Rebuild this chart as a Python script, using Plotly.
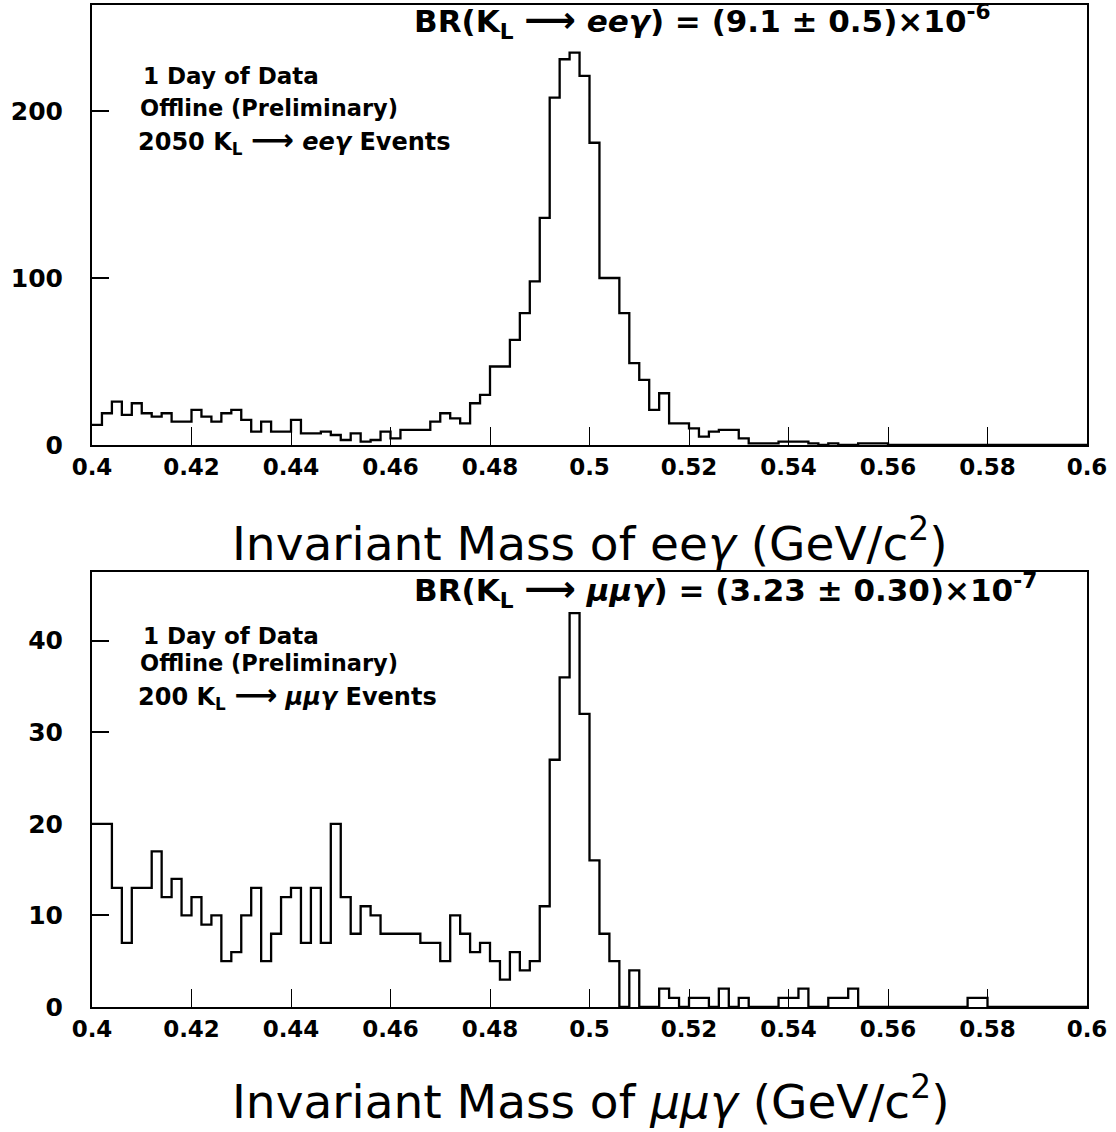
import numpy as np
import plotly.graph_objects as go

# Histogram binning: 100 bins of 2 MeV between 0.4 and 0.6 GeV/c^2
mass_lo, mass_hi, n_bins = 0.4, 0.6, 100
mass_edges = np.linspace(mass_lo, mass_hi, n_bins + 1)

# K_L -> e e gamma candidates per bin
ee_counts = [
    12, 19, 26, 18, 25, 19, 17, 19, 14, 14, 21, 17, 14, 19, 21, 15, 8, 14, 8, 8,
    15, 7, 7, 8, 6, 3, 7, 2, 3, 8, 4, 9, 9, 9, 14, 19, 16, 13, 25, 30,
    47, 47, 63, 79, 98, 136, 208, 231, 235, 221, 181, 100, 100, 79, 49, 39, 21, 31, 13, 13,
    10, 5, 8, 9, 9, 4, 1, 1, 1, 2, 2, 2, 1, 0, 1, 0, 0, 1, 1, 1,
    0, 0, 0, 0, 0, 0, 0, 0, 0, 0, 0, 0, 0, 0, 0, 0, 0, 0, 0, 0,
]

# K_L -> mu mu gamma candidates per bin
mm_counts = [
    20, 20, 13, 7, 13, 13, 17, 12, 14, 10, 12, 9, 10, 5, 6, 10, 13, 5, 8, 12,
    13, 7, 13, 7, 20, 12, 8, 11, 10, 8, 8, 8, 8, 7, 7, 5, 10, 8, 6, 7,
    5, 3, 6, 4, 5, 11, 27, 36, 43, 32, 16, 8, 5, 0, 4, 0, 0, 2, 1, 0,
    1, 1, 0, 2, 0, 1, 0, 0, 0, 1, 1, 2, 0, 0, 1, 1, 2, 0, 0, 0,
    0, 0, 0, 0, 0, 0, 0, 0, 1, 1, 0, 0, 0, 0, 0, 0, 0, 0, 0, 0,
]

x_tick_vals = [0.4, 0.42, 0.44, 0.46, 0.48, 0.5, 0.52, 0.54, 0.56, 0.58, 0.6]
x_tick_text = ["0.4", "0.42", "0.44", "0.46", "0.48", "0.5", "0.52", "0.54", "0.56", "0.58", "0.6"]
ee_y_ticks = [0, 100, 200]
mm_y_ticks = [0, 10, 20, 30, 40]

W, H = 1116, 1132
FONT = "DejaVu Sans"


def px_x(p):
    return p / W


def px_y(p):
    return 1 - p / H


def step(counts):
    # step outline: one point per left edge, plus the final right edge
    xs = list(mass_edges)
    ys = list(counts) + [counts[-1]]
    return xs, ys


fig = go.Figure()

for counts, xa, ya in [(ee_counts, "x", "y"), (mm_counts, "x2", "y2")]:
    xs, ys = step(counts)
    fig.add_trace(go.Scatter(
        x=xs, y=ys, mode="lines", line=dict(color="black", width=2.3, shape="hv"),
        xaxis=xa, yaxis=ya, showlegend=False, hoverinfo="skip",
    ))

x_dom = [px_x(92), px_x(1087)]

common_x = dict(
    range=[mass_lo, mass_hi], tickvals=x_tick_vals, ticktext=x_tick_text,
    ticks="inside", ticklen=18, tickwidth=1, tickcolor="black",
    showline=True, linecolor="black", linewidth=2, mirror=True,
    showgrid=False, zeroline=False, automargin=False, domain=x_dom,
    tickfont=dict(family=FONT, size=23, color="black", weight="bold"),
)
common_y = dict(
    ticks="inside", ticklen=17, tickwidth=1.5, tickcolor="black",
    showline=True, linecolor="black", linewidth=2, mirror=True,
    showgrid=False, zeroline=False, automargin=False, ticklabelstandoff=22,
    tickfont=dict(family=FONT, size=25, color="black", weight="bold"),
)

fig.update_layout(
    width=W, height=H,
    margin=dict(l=0, r=0, t=0, b=0, autoexpand=False),
    paper_bgcolor="white", plot_bgcolor="white",
    xaxis=dict(**common_x, anchor="y"),
    yaxis=dict(**common_y, range=[0, 263.5], tickvals=ee_y_ticks,
               domain=[px_y(445), px_y(5)], anchor="x"),
    xaxis2=dict(**common_x, anchor="y2"),
    yaxis2=dict(**common_y, range=[0, 47.5], tickvals=mm_y_ticks,
                domain=[px_y(1007), px_y(572)], anchor="x2"),
)


def arrow(px):
    return f"&nbsp;<span style='font-size:{px}px'>⟶</span>&nbsp;"


notes = [
    # (text, x px, y px, size, weight, anchor)
    (f"BR(K<sub>L</sub>{arrow(36)}<i>eeγ</i>) = (9.1 ± 0.5)×10<sup>-6</sup>", 412, 21, 31, "bold", "left"),
    ("1 Day of Data", 141, 76, 23, "bold", "left"),
    ("Offline (Preliminary)", 138, 108, 22.5, "bold", "left"),
    (f"2050 K<sub>L</sub>{arrow(30)}<i>eeγ</i> Events", 136, 140, 24, "bold", "left"),
    (f"BR(K<sub>L</sub>{arrow(36)}<i>μμγ</i>) = (3.23 ± 0.30)×10<sup>-7</sup>", 412, 590, 31, "bold", "left"),
    ("1 Day of Data", 141, 636, 23, "bold", "left"),
    ("Offline (Preliminary)", 138, 663, 22.5, "bold", "left"),
    (f"200 K<sub>L</sub>{arrow(30)}<i>μμγ</i> Events", 136, 695, 24, "bold", "left"),
    ("Invariant Mass of ee<i>γ</i> (GeV/c<sup>2</sup>)", 590, 540, 47, "normal", "center"),
    ("Invariant Mass of <i>μμγ</i> (GeV/c<sup>2</sup>)", 590, 1098, 47, "normal", "center"),
]
for text, x, y, size, weight, anchor in notes:
    fig.add_annotation(
        text=text, x=px_x(x), y=px_y(y), xref="paper", yref="paper",
        xanchor=anchor, yanchor="middle", showarrow=False,
        font=dict(family=FONT, size=size, color="black", weight=weight),
    )

fig.write_html("out.html")
